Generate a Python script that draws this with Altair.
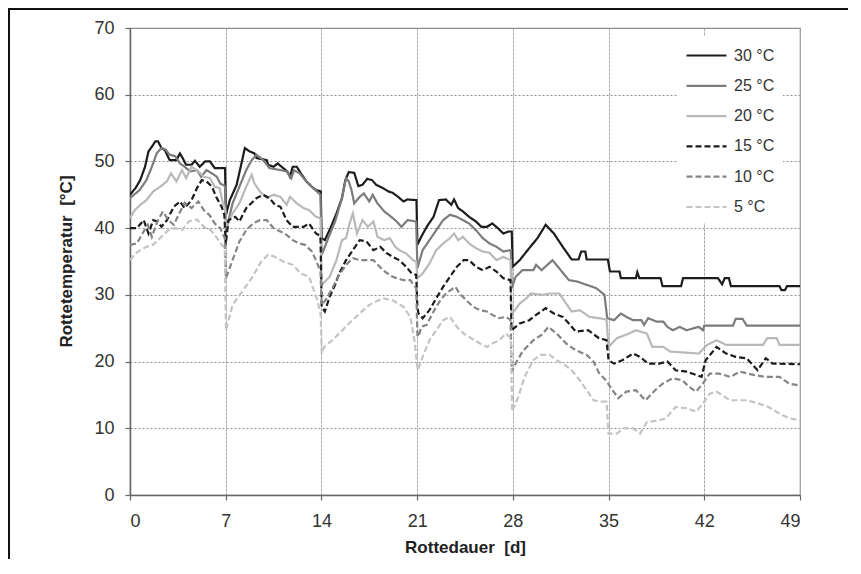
import altair as alt
import pandas as pd

series_names = ["30 °C", "25 °C", "20 °C", "15 °C", "10 °C", "5 °C"]
line_colors = ["#1c1c1c", "#7c7c7c", "#b9b9b9", "#1c1c1c", "#858585", "#c4c4c4"]
line_dashes = [[1, 0], [1, 0], [1, 0], [6, 3], [6, 3], [6, 3]]
x_ticks = [0, 7, 14, 21, 28, 35, 42, 49]
y_ticks = [0, 10, 20, 30, 40, 50, 60, 70]

pts_30 = [(0,45),(0.4,46),(0.75,47.2),(1.1,49.2),(1.35,51.5),(1.6,52.2),(1.85,53),(2.05,53),(2.3,52),(2.55,51.7),(2.9,50.2),(3.4,50.2),(3.65,51.2),(3.85,50.5),(4.1,49.5),(4.5,49.5),(4.75,50.1),(5.1,49.2),(5.5,50),(5.85,50),(6.2,49),(6.95,49),
(7.02,42),(7.3,44.2),(7.8,46.5),(8.15,49.7),(8.4,52),(8.75,51.5),(9.1,51.2),(9.25,50.5),(10.0,50.2),(10.1,49.5),(10.5,49.2),(10.8,49.7),(11.2,49),(11.5,48.5),(11.7,47.7),(11.9,49.2),(12.2,49.2),(12.5,48.2),(12.9,47),(13.3,46.2),(13.6,45.7),(13.95,45.5),
(14.02,38.5),(14.25,38.2),(14.7,40.2),(15.1,42.2),(15.5,44.5),(15.75,47.2),(16.0,48.4),(16.4,48.3),(16.7,46.3),(17.0,46.5),(17.35,47.4),(17.7,47.2),(18.0,46.5),(18.5,46),(18.9,45.5),(19.2,45.3),(19.6,44.7),(20.0,44),(20.3,44.3),(20.95,44.2),
(21.02,37.5),(21.3,38.7),(21.7,40.2),(22.2,41.7),(22.6,44.2),(23.1,44.3),(23.5,43.5),(23.7,44.3),(24.0,43),(24.35,42.5),(24.8,41.7),(25.3,41),(25.7,40.2),(26.1,40.2),(26.5,40.7),(26.9,40),(27.3,39.2),(27.7,39.5),(27.92,39.5),
(27.98,34.2),(28.5,35.2),(29.2,37),(29.8,38.5),(30.4,40.5),(31.0,39.2),(31.65,37.2),(32.3,35.3),(32.8,35.3),(33.0,36.5),(33.3,36.5),(33.4,35.3),(34.95,35.3),(35.1,33.5),(35.8,33.5),(35.9,32.5),(37.0,32.5),(37.1,33.4),(37.25,32.5),(38.8,32.5),(38.95,31.3),(40.3,31.3),(40.45,32.5),(43.0,32.5),(43.3,31.6),(43.5,32.5),(43.8,32.5),(43.95,31.3),(47.5,31.3),(47.65,30.7),(47.9,30.7),(48.05,31.3),(49,31.3)]

pts_25 = [(0,44.5),(0.7,45.7),(1.2,47.2),(1.6,49.2),(1.95,51.2),(2.3,52),(2.6,51.8),(2.9,51),(3.3,50.8),(3.65,49.7),(4.0,49.2),(4.4,48.5),(4.9,48.7),(5.2,47.7),(5.6,48.7),(6.0,48.2),(6.35,47.7),(6.6,46.7),(6.95,46.3),
(7.02,39.5),(7.5,43.7),(8.0,46.2),(8.5,48.7),(8.9,50.2),(9.25,51),(9.75,50.2),(10.2,49),(11.0,48.7),(11.45,48.5),(11.8,47.5),(12.0,48.7),(12.4,48.2),(12.9,47),(13.4,46),(13.93,45),
(14.02,36),(14.5,38.5),(15.0,41),(15.5,44.5),(15.8,47.5),(16.0,47),(16.2,45.7),(16.4,43.7),(16.8,44.7),(17.1,45.2),(17.5,44),(17.75,45),(18.1,43.7),(18.6,42.5),(19.1,41.7),(19.5,41),(19.85,40.2),(20.3,41.2),(20.93,41),
(21.02,34),(21.4,36.7),(21.9,38.2),(22.4,39.7),(22.9,41.2),(23.4,42),(23.9,41.7),(24.35,41.2),(24.8,40.7),(25.3,39.7),(25.8,38.5),(26.3,37.7),(26.8,37.2),(27.3,36.5),(27.85,36.7),
(27.92,31),(28.2,32.7),(28.7,33.7),(29.5,33.7),(29.7,34.5),(30.1,33.7),(30.9,35.2),(31.5,33.7),(32.1,32.2),(32.7,32),(33.4,31.5),(34.1,31),(34.7,30),(34.9,26.5),(35.4,26.2),(35.9,27.2),(36.3,26.7),(36.8,26.2),(37.4,26.2),(37.6,25.5),(37.9,26.5),(38.5,26),(39.0,26),(39.3,25.2),(39.7,24.7),(40.2,25.2),(40.7,24.7),(41.6,25.2),(41.9,24.7),(42.0,25.4),(44.1,25.4),(44.3,26.4),(44.8,26.4),(45.1,25.4),(49,25.4)]

pts_20 = [(0,41.5),(0.35,42.7),(0.75,43.5),(1.2,44.2),(1.7,45.5),(2.2,46.2),(2.7,47),(3.0,48.2),(3.4,47),(3.8,48.7),(4.1,47.5),(4.5,49.2),(5.0,48.5),(5.4,47.7),(5.85,47.5),(6.2,46.2),(6.55,46),(6.8,43.7),(6.95,43),
(7.02,40),(7.5,42.2),(8.0,43.7),(8.5,46.2),(8.9,48),(9.1,46.7),(9.5,45.5),(10.0,44.5),(10.5,45),(11.0,44.7),(11.45,43.5),(11.7,44.7),(12.2,43.7),(12.7,43),(13.1,42.7),(13.6,41.7),(13.93,41.5),
(14.02,31.5),(14.6,32.7),(15.1,35.2),(15.5,38.2),(15.8,38.5),(16.1,41),(16.3,42.2),(16.6,39.2),(17.0,41.2),(17.4,40.2),(17.8,41),(18.1,38.7),(18.6,38.2),(19.0,38.5),(19.4,37.2),(19.7,36.7),(20.2,36.2),(20.7,35.2),(20.93,35),
(21.02,32.5),(21.4,33.2),(21.9,34.7),(22.4,36.7),(22.9,37.7),(23.4,38.5),(23.7,39.2),(24.0,38.2),(24.35,38.7),(24.8,37.7),(25.3,37),(25.8,36.5),(26.3,36.3),(26.8,35.2),(27.3,35.7),(27.83,35.2),
(27.9,27),(28.5,28.7),(29.0,29.5),(29.3,30.2),(30.2,30),(30.7,30.2),(31.4,30.2),(31.8,29),(32.3,27.5),(32.9,27.7),(33.6,26.7),(34.3,26.5),(34.85,26.3),(35.0,22.2),(35.6,23.5),(36.5,24.2),(37.0,24.7),(37.8,24.2),(38.2,22.2),(39.0,22.2),(39.5,21.5),(41.6,21.2),(42.2,22.5),(42.9,23.2),(43.6,22.5),(46.3,22.5),(46.6,23.5),(47.3,23.5),(47.5,22.5),(49,22.5)]

pts_15 = [(0,40),(0.5,40),(1.0,41.2),(1.35,39.2),(1.7,41.2),(2.0,41),(2.3,40.2),(2.7,41.2),(3.2,43.2),(3.65,44),(4.0,43),(4.5,44.2),(4.9,46),(5.25,47.2),(5.6,47),(6.0,46.2),(6.3,44.7),(6.7,43.2),(6.9,42),
(7.0,37.5),(7.2,41.2),(7.7,41.7),(8.0,41),(8.5,43),(9.25,44.5),(9.75,45),(10.2,44.5),(10.6,43.5),(11.0,43.2),(11.45,41.2),(11.9,40.2),(12.7,40.2),(13.1,40.7),(13.6,39.2),(13.93,38.8),
(14.02,28.2),(14.25,27.5),(14.6,29.7),(15.0,31.5),(15.3,33.2),(15.8,35.2),(16.3,36.7),(16.8,38.2),(17.3,38),(17.8,36.7),(18.3,37.2),(18.75,36.3),(19.2,35.7),(19.7,35.2),(20.2,34.2),(20.6,33.2),(20.93,33),
(21.02,28),(21.1,27.2),(21.4,26.5),(21.9,27.7),(22.4,29.5),(22.9,31.2),(23.4,32.7),(23.9,34.2),(24.4,35.2),(24.8,35.2),(25.3,34.2),(25.8,33.7),(26.3,34.2),(26.8,33.5),(27.3,32.5),(27.83,32.2),
(27.9,24.7),(28.5,25.7),(29.2,26.2),(29.7,27),(30.4,28),(31.0,27.2),(31.65,26.7),(32.1,25.7),(32.6,24.5),(33.5,24.7),(34.3,23.5),(34.85,23.2),(35.0,20.2),(35.4,19.7),(36.0,20.2),(36.8,21.2),(37.3,20.7),(37.9,19.7),(38.7,19.7),(39.3,20),(39.9,18.7),(40.7,18.5),(41.4,18),(41.8,17.7),(42.1,20.2),(42.9,22.2),(43.6,21.2),(44.3,20.7),(45.1,20.5),(45.9,18.7),(46.5,20.5),(47.0,19.7),(49,19.6)]

pts_10 = [(0,37.5),(0.5,37.7),(1.0,39.5),(1.3,40.5),(1.6,38.7),(2.0,41),(2.4,42.5),(2.8,41.2),(3.2,40.5),(3.6,42.2),(4.0,43.8),(4.5,43),(5.0,44),(5.4,42.7),(5.8,42),(6.2,40.7),(6.6,40),(6.93,38.5),
(7.02,32.5),(7.5,35.2),(8.0,38),(8.5,39.7),(9.0,40.7),(9.5,41.2),(10.0,41.2),(10.5,40),(11.0,39.5),(11.45,39),(11.9,38.2),(12.4,37.7),(12.8,37.5),(13.3,36.5),(13.6,35.2),(13.93,33.5),
(14.02,28.5),(14.3,29.2),(14.8,31),(15.3,33),(15.8,34.5),(16.3,35.5),(16.8,35.2),(17.8,35.2),(18.5,33.7),(19.2,32.7),(20.0,32.2),(20.5,32.2),(20.93,31),
(21.02,24),(21.1,23.7),(21.3,25.2),(21.7,25.5),(22.2,27.5),(22.7,29.2),(23.1,30.2),(23.8,31.2),(24.1,30.2),(24.6,29.2),(25.1,28.2),(25.6,27.7),(26.1,27.5),(26.5,27),(27.0,26.5),(27.5,26.7),(27.83,26.2),
(27.92,18.5),(28.2,19.7),(28.7,21.5),(29.5,23.2),(30.1,24),(30.6,25.2),(31.2,24.2),(31.9,22.7),(32.6,21.7),(33.4,21),(33.9,20),(34.3,18.3),(34.8,17.2),(35.3,15.7),(35.7,14.5),(36.3,15.5),(37.0,15.7),(37.7,14.2),(38.4,15.7),(38.96,16.7),(39.7,17.5),(40.4,17.2),(40.9,16.2),(41.4,15.5),(41.9,16.7),(42.4,18.2),(43.1,18.2),(43.9,17.7),(44.6,18.5),(45.6,18),(46.5,17.7),(47.5,17.7),(48.2,16.7),(49,16.4)]

pts_5 = [(0,35.2),(0.4,36.2),(0.75,36.7),(1.2,37.2),(1.7,37.5),(2.3,38.7),(2.8,39.7),(3.3,40),(3.8,39.7),(4.3,41),(4.9,41.3),(5.4,40.2),(5.9,39.7),(6.3,38.7),(6.7,37.5),(6.93,37),
(7.02,24.7),(7.5,28.5),(8.2,30.5),(8.9,32.5),(9.6,35),(10.1,36),(10.5,35.8),(11.2,35),(11.9,34.5),(12.5,33.2),(13.1,32.7),(13.7,29.2),(13.95,27),
(14.02,21.2),(14.2,22.2),(14.8,23.2),(15.3,24.2),(16.0,25.7),(16.8,27.2),(17.5,28.5),(18.5,29.5),(19.2,29.2),(20.0,28.2),(20.5,26.7),(20.8,23.2),(21.05,18.7),
(21.4,20.7),(21.9,23.2),(22.4,24.7),(22.9,26.2),(23.4,26.7),(23.9,25.2),(24.4,24.2),(24.8,23.7),(25.6,22.7),(26.1,22.2),(26.5,22.7),(27.0,23.2),(27.5,24.2),(27.85,23.5),
(27.95,12.5),(28.4,14.7),(28.85,17.7),(29.5,20.2),(30.0,21),(30.7,21),(31.2,20.2),(31.8,19.5),(32.3,18.7),(32.9,17.2),(33.4,15.7),(33.9,14.2),(34.3,14),(34.85,14),(35.0,9.2),(35.6,9.2),(36.1,10),(36.8,10),(37.3,9.2),(37.8,10.9),(38.7,11.2),(39.2,11.5),(39.9,13.2),(40.7,13),(41.4,12.5),(41.9,13.7),(42.4,15.2),(42.9,15.5),(43.9,14.2),(45.1,14.2),(46.0,13.7),(46.7,13.2),(47.5,12.2),(48.2,11.5),(49,11.2)]

all_pts = [pts_30, pts_25, pts_20, pts_15, pts_10, pts_5]

rows = []
for rank, (name, pts) in enumerate(zip(series_names, all_pts)):
    for i, (d, t) in enumerate(pts):
        rows.append({"series": name, "day": d, "temp": t, "order": i, "rank": rank})
df = pd.DataFrame(rows)

legend = alt.Legend(
    title=None, orient="none", legendX=547, legendY=8, padding=8,
    fillColor="white", symbolType="M-1,0H3", symbolSize=400,
    symbolStrokeWidth=2.2, labelFont="Liberation Sans", labelFontSize=16,
    labelColor="#333333", labelOffset=26, rowPadding=10.3,
)

lines = alt.Chart(df).mark_line(strokeWidth=2.2, clip=True).encode(
    x=alt.X("day:Q", scale=alt.Scale(domain=[0, 49], nice=False, zero=False),
            axis=alt.Axis(values=x_ticks, title="Rottedauer\u00a0\u00a0[d]",
                          gridDash=[3, 1], gridColor="#a8a8a8", gridWidth=1,
                          labelPadding=12, titleY=44, titleBaseline="top")),
    y=alt.Y("temp:Q", scale=alt.Scale(domain=[0, 70], nice=False),
            axis=alt.Axis(values=y_ticks, title="Rottetemperatur\u00a0\u00a0[°C]",
                          gridDash=[2, 2], gridColor="#909090", gridWidth=1.2,
                          labelPadding=11, titleX=-55, titleY=233)),
    color=alt.Color("series:N", scale=alt.Scale(domain=series_names, range=line_colors), legend=legend),
    strokeDash=alt.StrokeDash("series:N", scale=alt.Scale(domain=series_names, range=line_dashes), legend=legend),
    detail="rank:O",
    order="order:Q",
)

frame_df = pd.DataFrame({"k": [0]})
frame = alt.Chart(frame_df).mark_rect(
    fillOpacity=0, stroke="#111111", strokeWidth=2
).encode(
    x=alt.value(-121), x2=alt.value(760), y=alt.value(-19), y2=alt.value(600)
)

chart = alt.layer(frame, lines).properties(
    width=670, height=467,
    padding={"left": 122, "top": 20, "right": 48, "bottom": 64},
    autosize=alt.AutoSizeParams(type="none"),
).configure_view(
    stroke="#8c8c8c", strokeWidth=1.2
).configure_axis(
    labelFont="Liberation Sans", labelFontSize=18, labelColor="#333333",
    titleFont="Liberation Sans", titleFontSize=17, titleFontWeight="bold",
    titleColor="#222222", domainColor="#666666", domainWidth=1.5,
    tickColor="#666666", tickSize=5, tickWidth=1.2,
)

chart.save("out.html", embed_options={"renderer": "svg", "actions": False})
